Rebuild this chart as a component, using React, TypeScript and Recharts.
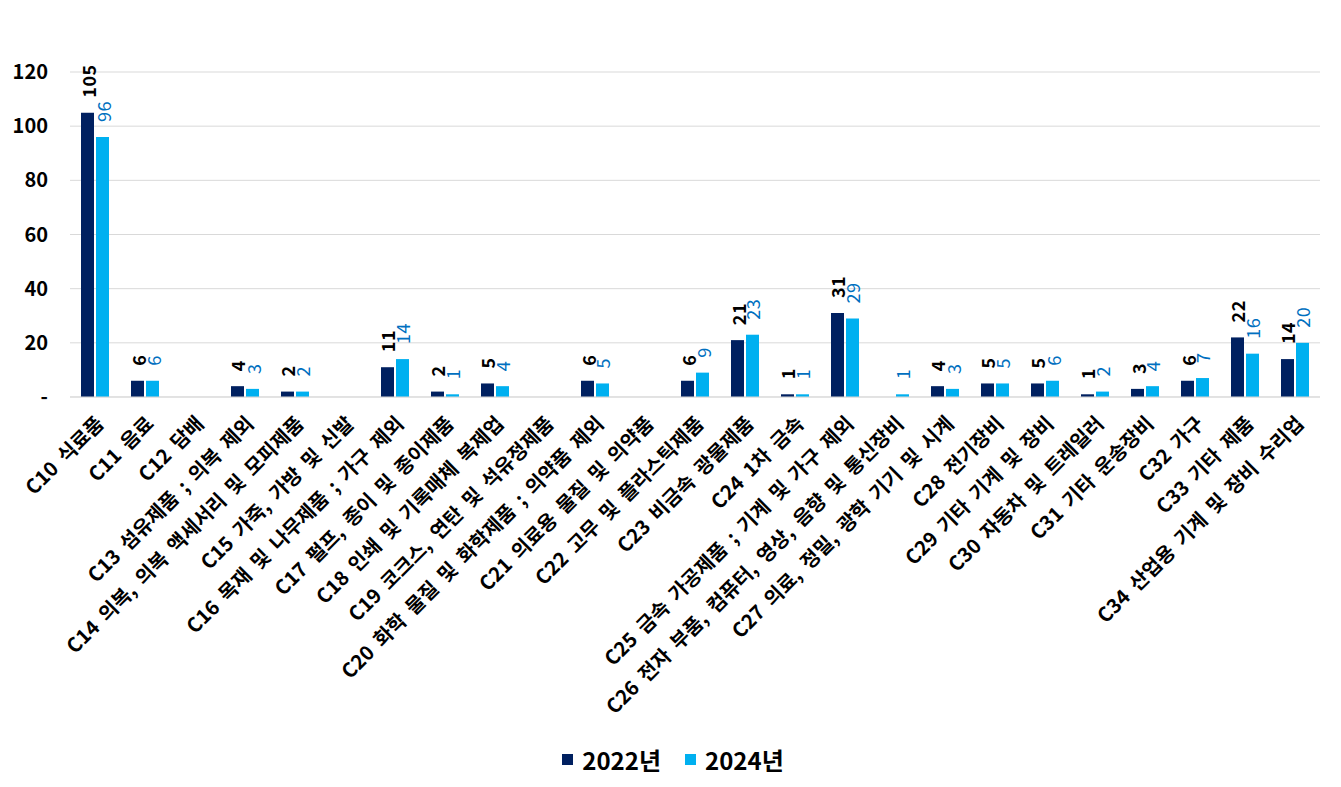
import { BarChart, Bar, XAxis, YAxis, CartesianGrid, Legend } from 'recharts';

const categories = [
  'C10 식료품',
  'C11 음료',
  'C12 담배',
  'C13 섬유제품 ; 의복 제외',
  'C14 의복, 의복 액세서리 및 모피제품',
  'C15 가죽, 가방 및 신발',
  'C16 목재 및 나무제품 ; 가구 제외',
  'C17 펄프, 종이 및 종이제품',
  'C18 인쇄 및 기록매체 복제업',
  'C19 코크스, 연탄 및 석유정제품',
  'C20 화학 물질 및 화학제품 ; 의약품 제외',
  'C21 의료용 물질 및 의약품',
  'C22 고무 및 플라스틱제품',
  'C23 비금속 광물제품',
  'C24 1차 금속',
  'C25 금속 가공제품 ; 기계 및 가구 제외',
  'C26 전자 부품, 컴퓨터, 영상, 음향 및 통신장비',
  'C27 의료, 정밀, 광학 기기 및 시계',
  'C28 전기장비',
  'C29 기타 기계 및 장비',
  'C30 자동차 및 트레일러',
  'C31 기타 운송장비',
  'C32 가구',
  'C33 기타 제품',
  'C34 산업용 기계 및 장비 수리업',
];

const values2022 = [105, 6, null, 4, 2, null, 11, 2, 5, null, 6, null, 6, 21, 1, 31, null, 4, 5, 5, 1, 3, 6, 22, 14];
const values2024 = [96, 6, null, 3, 2, null, 14, 1, 4, null, 5, null, 9, 23, 1, 29, 1, 3, 5, 6, 2, 4, 7, 16, 20];

const yTicks = [0, 20, 40, 60, 80, 100, 120];

const data = categories.map((name, i) => ({ name, y2022: values2022[i], y2024: values2024[i] }));

const NAVY = '#002060';
const SKY = '#00B0F0';
const LABEL_BLUE = '#0070C0';
const FONT = '"Noto Sans CJK KR", "Noto Sans", sans-serif';

function makeLabel(color: string, weight: number) {
  return (props: any) => {
    const { x, y, width, value } = props;
    if (value === null || value === undefined || value === 0) return null;
    const cx = x + width / 2;
    const cy = y - 15;
    return (
      <text
        x={cx}
        y={cy}
        transform={`rotate(-90, ${cx}, ${cy})`}
        textAnchor="start"
        dominantBaseline="central"
        fontSize={18}
        fontWeight={weight}
        fill={color}
        fontFamily={FONT}
        letterSpacing={0.5}
      >
        {value}
      </text>
    );
  };
}

function CategoryTick({ x, y, payload }: any) {
  return (
    <g transform={`translate(${x + 5},${y + 15}) rotate(-45)`}>
      <text
        x={0}
        y={0}
        dy="0.35em"
        textAnchor="end"
        fontSize={20}
        fontWeight={700}
        fill="#000"
        fontFamily={FONT}
        wordSpacing={4}
      >
        {payload.value}
      </text>
    </g>
  );
}

function LegendBox({ payload }: any) {
  return (
    <div style={{ display: 'flex', justifyContent: 'center', gap: 24, paddingLeft: 18, fontFamily: FONT, fontSize: 24, fontWeight: 700 }}>
      {(payload || []).map((p: any) => (
        <div key={p.value} style={{ display: 'flex', alignItems: 'center' }}>
          <span style={{ width: 11, height: 11, background: p.color, display: 'inline-block', marginRight: 9 }} />
          <span style={{ color: '#000' }}>{p.value}</span>
        </div>
      ))}
    </div>
  );
}

export default function App() {
  return (
    <div style={{ width: 1325, height: 775, background: '#fff' }}>
      <BarChart
        width={1325}
        height={775}
        data={data}
        margin={{ top: 64, right: 13, left: 0, bottom: 6 }}
        barSize={13}
        barGap={2}
      >
        <CartesianGrid vertical={false} stroke="#d9d9d9" />
        <XAxis
          dataKey="name"
          interval={0}
          height={345}
          tick={<CategoryTick />}
          tickLine={false}
          axisLine={{ stroke: '#d9d9d9' }}
        />
        <YAxis
          width={62}
          domain={[0, 120]}
          ticks={yTicks}
          tickFormatter={(v: number) => (v === 0 ? '-' : String(v))}
          tick={{ fontSize: 20, fontWeight: 700, fill: '#000', fontFamily: FONT, dx: -14 }}
          axisLine={false}
          tickLine={false}
        />
        <Legend verticalAlign="bottom" content={<LegendBox />} />
        <Bar dataKey="y2022" name="2022년" fill={NAVY} isAnimationActive={false} label={makeLabel('#000', 700)} />
        <Bar dataKey="y2024" name="2024년" fill={SKY} isAnimationActive={false} label={makeLabel(LABEL_BLUE, 400)} />
      </BarChart>
    </div>
  );
}
